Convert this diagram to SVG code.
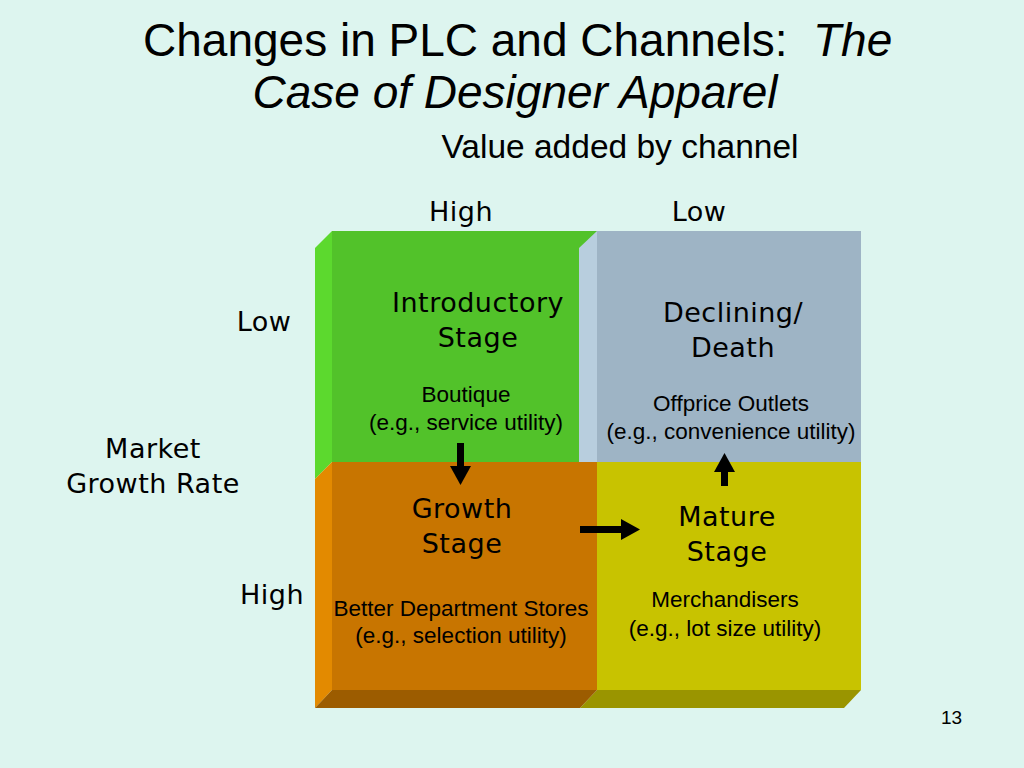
<svg xmlns="http://www.w3.org/2000/svg" width="1024" height="768" viewBox="0 0 1024 768">
<style>
.title{font-family:"Liberation Sans",Arial,sans-serif;font-size:46px;fill:#000}
.sub{font-family:"Liberation Sans",Arial,sans-serif;font-size:33.5px;fill:#000}
.comic{font-family:"DejaVu Sans","Noto Sans",sans-serif;font-size:27px;letter-spacing:0.5px;fill:#000;text-anchor:middle}
.body{font-family:"Liberation Sans",Arial,sans-serif;font-size:22.5px;fill:#000;text-anchor:middle}
.num{font-family:"Liberation Sans",Arial,sans-serif;font-size:19px;fill:#000}
.conn{stroke:#000;stroke-width:7;fill:none}
</style>
<defs>
<marker id="head" markerUnits="userSpaceOnUse" markerWidth="19" markerHeight="21" viewBox="0 0 19 21" refX="0" refY="10.5" orient="auto">
<path d="M0,0 L19,10.5 L0,21 Z" fill="#000"/>
</marker>
</defs>
<rect width="1024" height="768" fill="#DDF5EF"/>
<g id="title">
<text class="title" x="143" y="56" xml:space="preserve">Changes in PLC and Channels:  <tspan font-style="italic">The</tspan></text>
<text class="title" x="515" y="108" text-anchor="middle" font-style="italic">Case of Designer Apparel</text>
<text class="sub" x="620" y="158" text-anchor="middle">Value added by channel</text>
</g>
<g id="axis-labels">
<text class="comic" x="461" y="221">High</text>
<text class="comic" x="699" y="221">Low</text>
<text class="comic" x="264" y="331">Low</text>
<text class="comic" x="153" y="458">Market</text>
<text class="comic" x="153" y="493">Growth Rate</text>
<text class="comic" x="272" y="604">High</text>
</g>
<g id="introductory">
<polygon points="315,248 332,231 332,462 315,479" fill="#5CD92E"/>
<rect x="332" y="231" width="265" height="231" fill="#52C22A"/>
<text class="comic" x="478" y="312">Introductory</text>
<text class="comic" x="478" y="347">Stage</text>
<text class="body" x="466" y="402">Boutique</text>
<text class="body" x="466" y="430">(e.g., service utility)</text>
</g>
<g id="declining">
<rect x="597" y="231" width="264" height="231" fill="#9EB4C5"/>
<polygon points="579,248 597,231 597,462 579,462" fill="#B8CEDE"/>
<text class="comic" x="733" y="322">Declining/</text>
<text class="comic" x="733" y="357">Death</text>
<text class="body" x="731" y="411">Offprice Outlets</text>
<text class="body" x="731" y="439">(e.g., convenience utility)</text>
</g>
<g id="mature">
<rect x="597" y="462" width="264" height="228" fill="#C8C300"/>
<polygon points="597,690 861,690 844,708 580,708" fill="#9A9500"/>
<text class="comic" x="727" y="526">Mature</text>
<text class="comic" x="727" y="561">Stage</text>
<text class="body" x="725" y="607">Merchandisers</text>
<text class="body" x="725" y="636">(e.g., lot size utility)</text>
</g>
<g id="growth">
<polygon points="315,479 332,462 332,690 315,708" fill="#E38A00"/>
<rect x="332" y="462" width="265" height="228" fill="#C87500"/>
<polygon points="332,690 597,690 580,708 315,708" fill="#9C5C00"/>
<text class="comic" x="462" y="518">Growth</text>
<text class="comic" x="462" y="553">Stage</text>
<text class="body" x="461" y="616">Better Department Stores</text>
<text class="body" x="461" y="643">(e.g., selection utility)</text>
</g>
<g id="connectors">
<line class="conn" x1="460.5" y1="443" x2="460.5" y2="466" marker-end="url(#head)"/>
<line class="conn" x1="580" y1="529.5" x2="621" y2="529.5" marker-end="url(#head)"/>
<line class="conn" x1="724.5" y1="486" x2="724.5" y2="472" marker-end="url(#head)"/>
</g>
<text class="num" x="941" y="724">13</text>
</svg>
